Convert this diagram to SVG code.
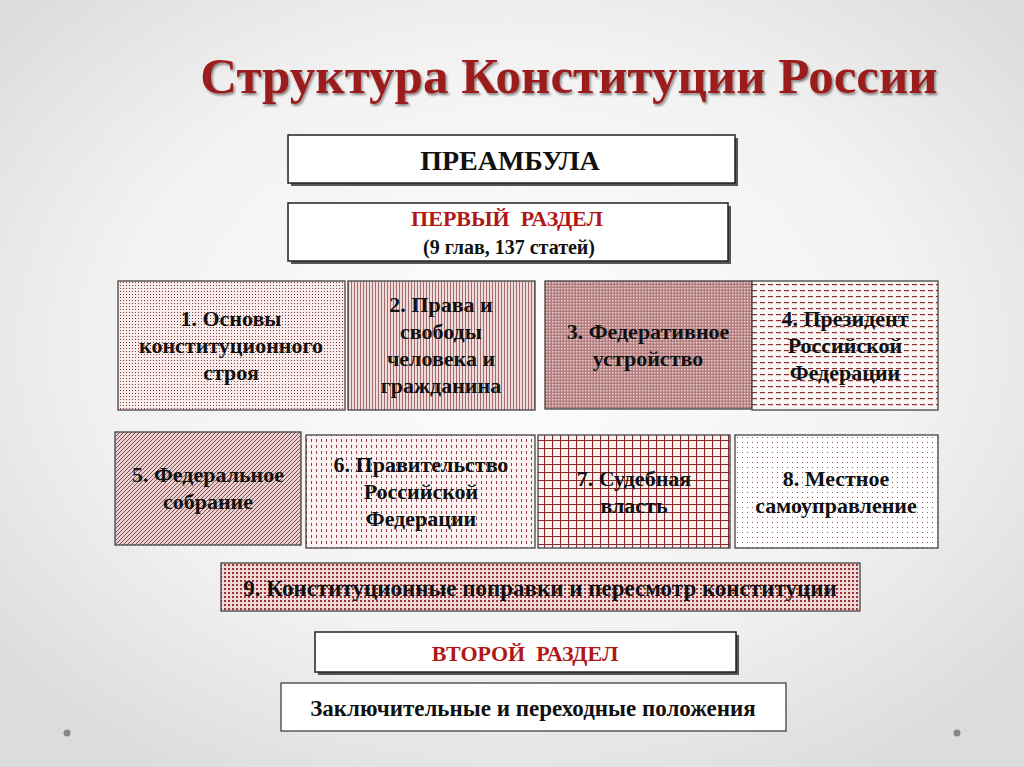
<svg xmlns="http://www.w3.org/2000/svg" width="1024" height="767" viewBox="0 0 1024 767">
<style>
.t{font-family:"Liberation Serif",serif;font-weight:bold;fill:#111;text-anchor:middle}
.b{stroke:#444;stroke-width:1.3}
.w{fill:#fff;stroke:#222;stroke-width:1.5}
.sh{fill:#555}
.r{fill:#b01818}
</style>
<defs>
<radialGradient id="bg" cx="50%" cy="45%" r="65%"><stop offset="0" stop-color="#fdfdfd"/><stop offset="0.6" stop-color="#f2f2f2"/><stop offset="1" stop-color="#dcdcdc"/></radialGradient>
<pattern id="p1" width="3" height="3" patternUnits="userSpaceOnUse"><rect width="3" height="3" fill="#f6ecec"/><rect width="1" height="1" fill="#8a3a3a"/></pattern>
<pattern id="p2" width="3" height="3" patternUnits="userSpaceOnUse"><rect width="3" height="3" fill="#ecdcdc"/><rect width="1" height="3" fill="#a86a6a"/></pattern>
<pattern id="p3" width="3" height="3" patternUnits="userSpaceOnUse"><rect width="3" height="3" fill="#b47c7c"/><rect width="1.5" height="1.5" fill="#e8d4d4"/></pattern>
<pattern id="p4" width="8" height="6" patternUnits="userSpaceOnUse"><rect width="8" height="6" fill="#fbf6f6"/><rect y="2" width="5" height="1.2" fill="#8a3030"/></pattern>
<pattern id="p5" width="4" height="4" patternUnits="userSpaceOnUse"><rect width="4" height="4" fill="#e6d2d2"/><path d="M0 4L4 0M-1 1L1 -1M3 5L5 3" stroke="#8a4a4a" stroke-width="1"/></pattern>
<pattern id="p6" width="5" height="6" patternUnits="userSpaceOnUse"><rect width="5" height="6" fill="#fbf3f3"/><rect x="1" y="1" width="1" height="3" fill="#9a3a3a"/></pattern>
<pattern id="p7" width="8" height="8" patternUnits="userSpaceOnUse"><rect width="8" height="8" fill="#faf0f0"/><path d="M0 .5H8M.5 0V8" stroke="#8a2a2a" stroke-width="1.2"/></pattern>
<pattern id="p8" width="5" height="5" patternUnits="userSpaceOnUse"><rect width="5" height="5" fill="#fff"/><rect x="2" y="2" width="1" height="1" fill="#9a5a5a"/></pattern>
<pattern id="p9" width="4" height="4" patternUnits="userSpaceOnUse"><rect width="4" height="4" fill="#eed8d8"/><rect width="2" height="2" fill="#a03030"/></pattern>
<filter id="ts"><feDropShadow dx="1.5" dy="2" stdDeviation="1.2" flood-color="#000" flood-opacity="0.45"/></filter>
</defs>
<rect width="1024" height="767" fill="url(#bg)"/>
<text x="569" y="93" font-family="Liberation Serif,serif" font-weight="bold" font-size="51" fill="#9b1c1c" text-anchor="middle" filter="url(#ts)">Структура Конституции России</text>
<circle cx="67" cy="733" r="3.5" fill="#888"/>
<circle cx="957" cy="733" r="3.5" fill="#888"/>
<g id="preamble"><rect class="sh" x="291" y="138" width="447" height="48"/><rect class="w" x="288" y="135" width="447" height="48"/><text class="t" x="510" y="170" font-size="28">ПРЕАМБУЛА</text></g>
<g id="section1"><rect class="sh" x="291" y="206" width="440" height="58"/><rect class="w" x="288" y="203" width="440" height="58"/><text class="t r" x="507" y="226" font-size="22" xml:space="preserve">ПЕРВЫЙ  РАЗДЕЛ</text><text class="t" x="509" y="254" font-size="20">(9 глав, 137 статей)</text></g>
<g id="ch1"><rect class="b" x="118" y="281" width="227" height="129" fill="url(#p1)"/><text class="t" font-size="22"><tspan x="231" y="326">1. Основы</tspan><tspan x="231" y="353">конституционного</tspan><tspan x="231" y="380">строя</tspan></text></g>
<g id="ch2"><rect class="b" x="348" y="281" width="187" height="129" fill="url(#p2)"/><text class="t" font-size="22"><tspan x="441" y="312">2. Права и</tspan><tspan x="441" y="339">свободы</tspan><tspan x="441" y="366">человека и</tspan><tspan x="441" y="393">гражданина</tspan></text></g>
<g id="ch3"><rect class="b" x="545" y="281" width="207" height="128" fill="url(#p3)"/><text class="t" font-size="22"><tspan x="648" y="339">3. Федеративное</tspan><tspan x="648" y="366">устройство</tspan></text></g>
<g id="ch4"><rect class="b" x="752" y="281" width="186" height="129" fill="url(#p4)"/><text class="t" font-size="22"><tspan x="845" y="326">4. Президент</tspan><tspan x="845" y="353">Российской</tspan><tspan x="845" y="380">Федерации</tspan></text></g>
<g id="ch5"><rect class="b" x="115" y="432" width="186" height="113" fill="url(#p5)"/><text class="t" font-size="22"><tspan x="208" y="482">5. Федеральное</tspan><tspan x="208" y="509">собрание</tspan></text></g>
<g id="ch6"><rect class="b" x="306" y="435" width="229" height="113" fill="url(#p6)"/><text class="t" font-size="22"><tspan x="421" y="472">6. Правительство</tspan><tspan x="421" y="499">Российской</tspan><tspan x="421" y="526">Федерации</tspan></text></g>
<g id="ch7"><rect class="b" x="538" y="435" width="192" height="113" fill="url(#p7)"/><text class="t" font-size="22"><tspan x="634" y="486">7. Судебная</tspan><tspan x="634" y="513">власть</tspan></text></g>
<g id="ch8"><rect class="b" x="735" y="435" width="203" height="113" fill="url(#p8)"/><text class="t" font-size="22"><tspan x="836" y="486">8. Местное</tspan><tspan x="836" y="513">самоуправление</tspan></text></g>
<g id="ch9"><rect class="b" x="221" y="563" width="639" height="48" fill="url(#p9)"/><text class="t" x="540" y="596" font-size="23">9. Конституционные поправки и пересмотр конституции</text></g>
<g id="section2"><rect class="sh" x="318" y="635" width="421" height="40"/><rect class="w" x="315" y="632" width="421" height="40"/><text class="t r" x="525" y="661" font-size="22" xml:space="preserve">ВТОРОЙ  РАЗДЕЛ</text></g>
<g id="final"><rect x="281" y="683" width="505" height="48" fill="#fff" stroke="#333" stroke-width="1.2"/><text class="t" x="533" y="716" font-size="23">Заключительные и переходные положения</text></g>
<g id="connectors"/>
</svg>
